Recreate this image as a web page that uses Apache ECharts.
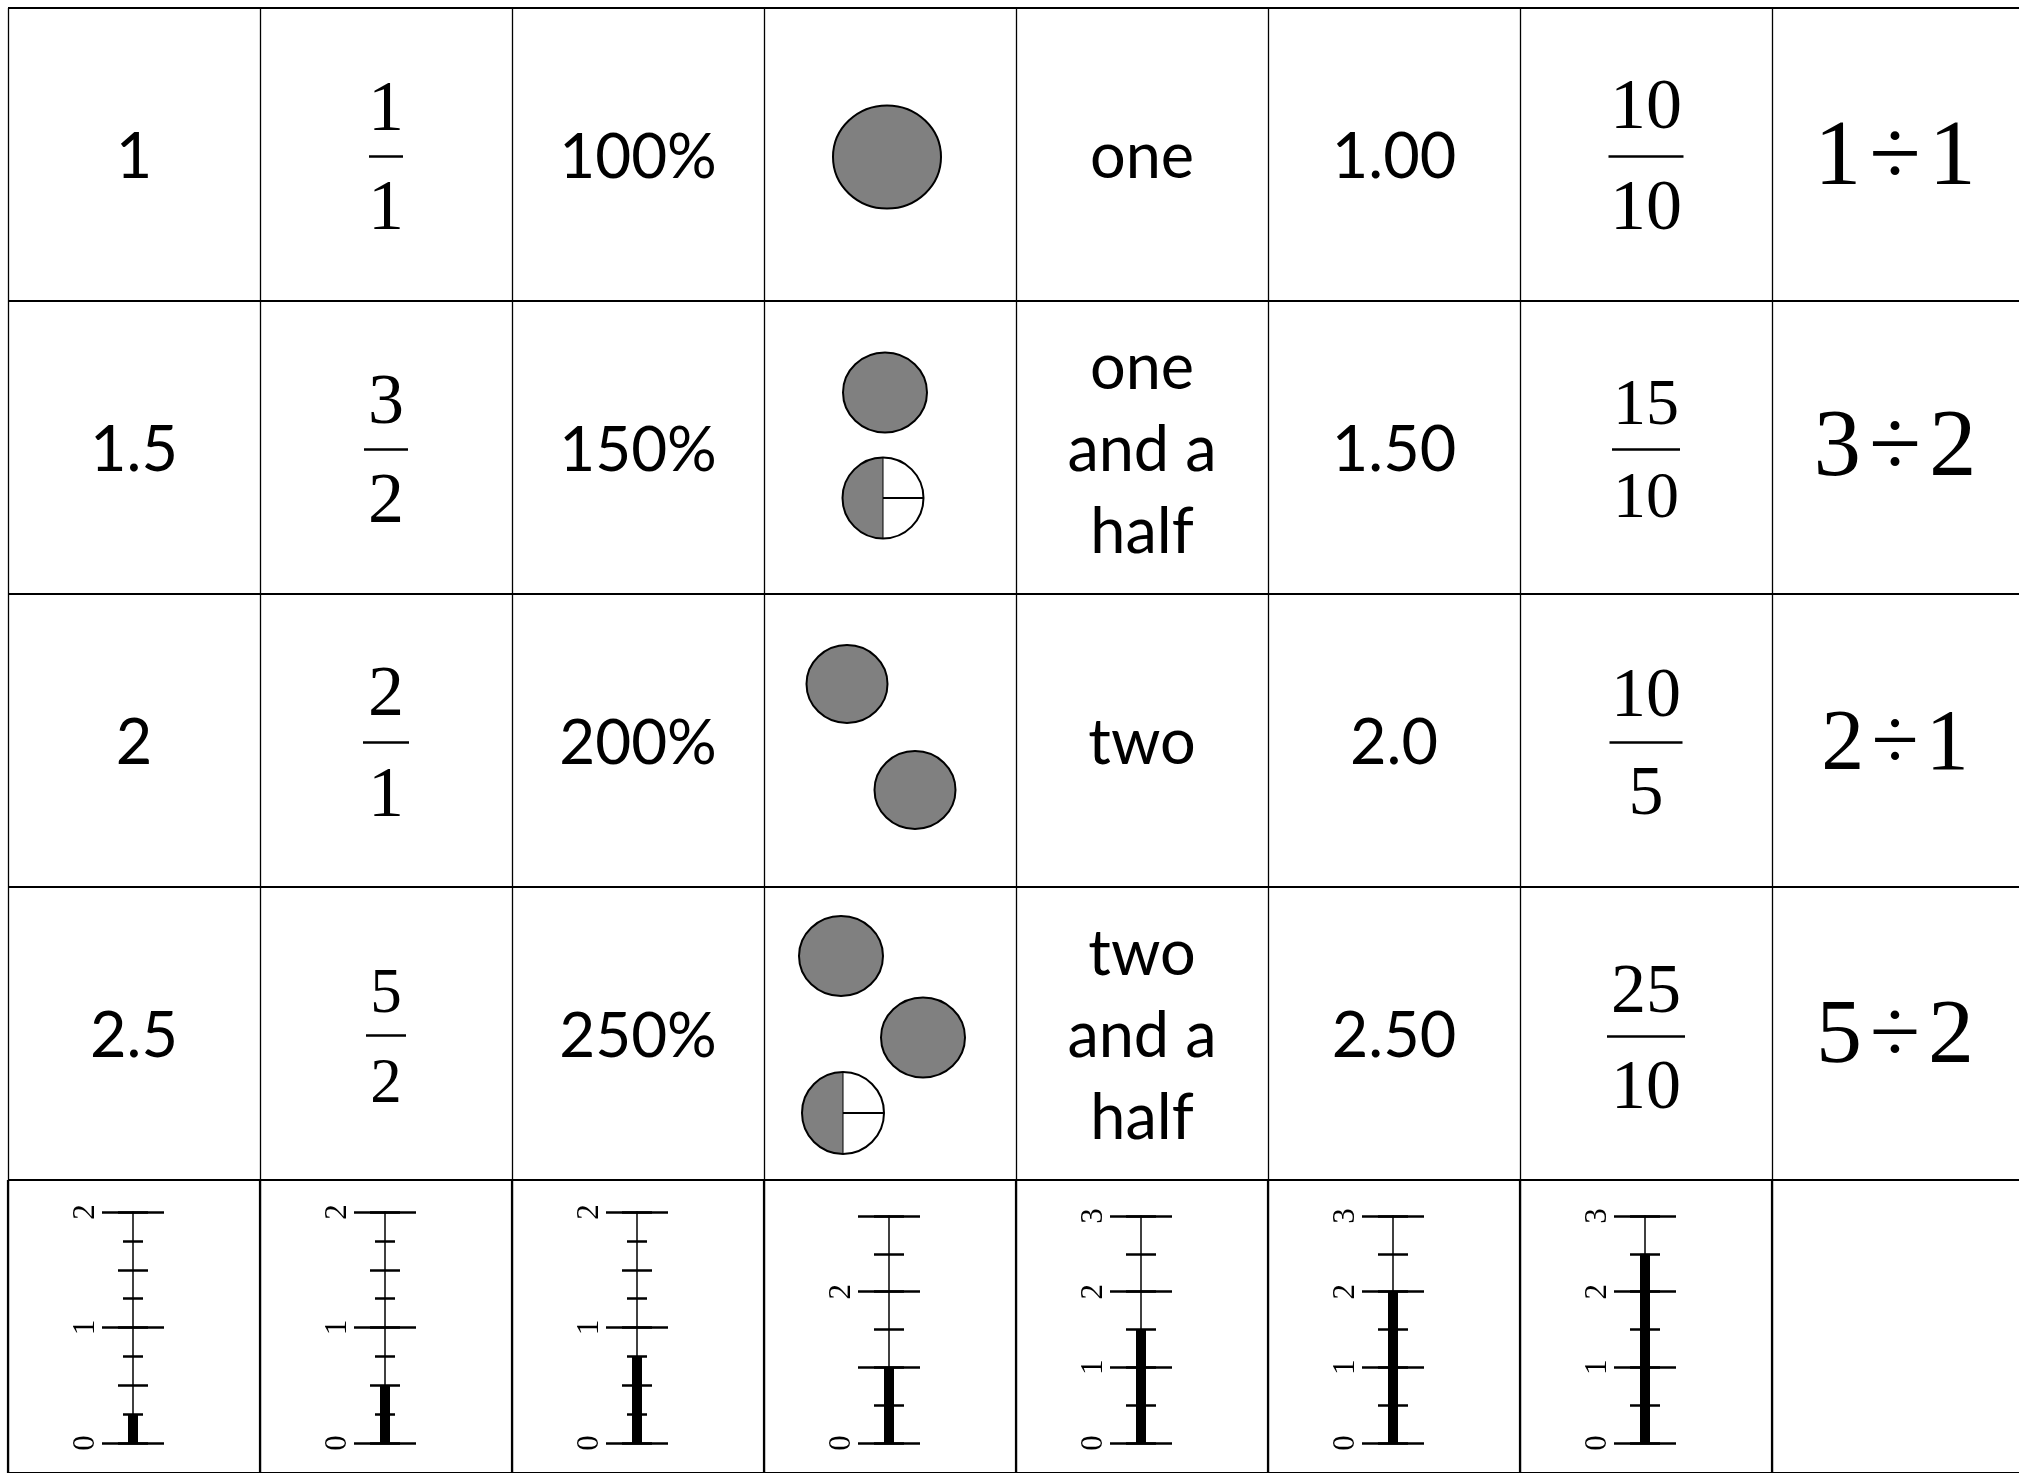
<!DOCTYPE html>
<html>
<head>
<meta charset="utf-8">
<script src="https://cdn.jsdelivr.net/npm/echarts@6/dist/echarts.min.js"></script>
<style>
  html, body { margin: 0; padding: 0; background: #fff; }
  #chart { width: 2019px; height: 1473px; }
</style>
</head>
<body>
<div id="chart"></div>
<script>
// one entry per card row
const decimals = ['1', '1.5', '2', '2.5'];
const fractions = [['1', '1'], ['3', '2'], ['2', '1'], ['5', '2']];
const percents = ['100%', '150%', '200%', '250%'];
const wholeCircles = [1, 1, 2, 2];
const partCircles = [0, 0.5, 0, 0.5];
const words = ['one', 'one\nand a\nhalf', 'two', 'two\nand a\nhalf'];
const decimalsTwo = ['1.00', '1.50', '2.0', '2.50'];
const tenths = [['10', '10'], ['15', '10'], ['10', '5'], ['25', '10']];
const divisions = ['1÷1', '3÷2', '2÷1', '5÷2'];

// number line cards in the bottom row
const lineValues = [0.25, 0.5, 0.75, 1, 1.5, 2, 2.5];
const lineMax = [2, 2, 2, 3, 3, 3, 3];
const lineLabels = [[0, 1, 2], [0, 1, 2], [0, 1, 2], [0, 2], [0, 1, 2, 3], [0, 1, 2, 3], [0, 1, 2, 3]];

// layout
const LEFT = 8, TOP = 8, CELL_W = 252, CELL_H = 293;
const SANS = 'Lato, "Open Sans", sans-serif';
const SERIF = '"Liberation Serif", "DejaVu Serif", serif';
const SANS_DY = 3, SERIF_DY = 4;

// fraction look per row: font size, numerator / bar / denominator offsets, bar width
const fracLook = [
  { size: 72, num: -47, bar: 2, den: 52, w: 34 },
  { size: 72, num: -47, bar: 2, den: 52, w: 44 },
  { size: 72, num: -48, bar: 2, den: 53, w: 46 },
  { size: 63, num: -42, bar: 2, den: 48, w: 40 }
];
const tenthsLook = [
  { size: 72, num: -49, bar: 2, den: 52, w: 75 },
  { size: 66, num: -45, bar: 2, den: 48, w: 68 },
  { size: 70, num: -47, bar: 2, den: 51, w: 73 },
  { size: 70, num: -44, bar: 3, den: 52, w: 78 }
];
const divisionLook = [
  { size: 94, dy: 1 }, { size: 95, dy: -1 }, { size: 86, dy: 2 }, { size: 92, dy: 0 }
];
const circleSlots = [
  [{ dx: -3, dy: 2.5, rx: 54, ry: 51.5 }],
  [{ dx: -5, dy: -55, rx: 42, ry: 40 }, { dx: -7, dy: 50.5, rx: 41, ry: 40 }],
  [{ dx: -43, dy: -56.5, rx: 40.5, ry: 39 }, { dx: 25, dy: 49.5, rx: 40.5, ry: 39 }],
  [{ dx: -49, dy: -77.5, rx: 42, ry: 40 }, { dx: 33, dy: 4, rx: 42, ry: 40 }, { dx: -47, dy: 79.5, rx: 42, ry: 40 }]
];

function cellData(col, n) {
  const out = [];
  for (let r = 0; r < n; r++) out.push([col + 0.5, r + 0.5]);
  return out;
}

function textSeries(col, texts, fontSize, lineHeight) {
  return {
    type: 'custom', xAxisIndex: 0, yAxisIndex: 0, silent: true,
    data: cellData(col, texts.length),
    renderItem: (params, api) => {
      const p = api.coord([api.value(0), api.value(1)]);
      return {
        type: 'text', x: p[0], y: p[1] + SANS_DY,
        style: { text: texts[params.dataIndex], fontFamily: SANS, fontSize, lineHeight, fill: '#000', align: 'center', verticalAlign: 'middle' }
      };
    }
  };
}

function fractionSeries(col, pairs, looks) {
  return {
    type: 'custom', xAxisIndex: 0, yAxisIndex: 0, silent: true,
    data: cellData(col, pairs.length),
    renderItem: (params, api) => {
      const p = api.coord([api.value(0), api.value(1)]);
      const pair = pairs[params.dataIndex];
      const s = looks[params.dataIndex];
      const txt = (t, dy) => ({
        type: 'text', x: p[0], y: p[1] + dy + SERIF_DY,
        style: { text: t, fontFamily: SERIF, fontSize: s.size, fill: '#000', align: 'center', verticalAlign: 'middle' }
      });
      return {
        type: 'group',
        children: [
          txt(pair[0], s.num),
          { type: 'line', shape: { x1: p[0] - s.w / 2, y1: p[1] + s.bar, x2: p[0] + s.w / 2, y2: p[1] + s.bar }, style: { stroke: '#000', lineWidth: 2.5 } },
          txt(pair[1], s.den)
        ]
      };
    }
  };
}

const circleSeries = {
  type: 'custom', xAxisIndex: 0, yAxisIndex: 0, silent: true,
  data: cellData(3, wholeCircles.length),
  renderItem: (params, api) => {
    const i = params.dataIndex;
    const p = api.coord([api.value(0), api.value(1)]);
    const slots = circleSlots[i];
    const children = [];
    for (let k = 0; k < wholeCircles[i]; k++) {
      const s = slots[k];
      children.push({ type: 'ellipse', shape: { cx: p[0] + s.dx, cy: p[1] + s.dy, rx: s.rx, ry: s.ry }, style: { fill: '#808080', stroke: '#000', lineWidth: 2 } });
    }
    if (partCircles[i] > 0) {
      const s = slots[wholeCircles[i]];
      const cx = p[0] + s.dx, cy = p[1] + s.dy, r = (s.rx + s.ry) / 2;
      children.push({ type: 'circle', shape: { cx, cy, r }, style: { fill: '#fff' } });
      children.push({ type: 'sector', shape: { cx, cy, r0: 0, r, startAngle: Math.PI * 1.5 - partCircles[i] * Math.PI * 2, endAngle: Math.PI * 1.5, clockwise: true }, style: { fill: '#808080' } });
      children.push({ type: 'line', shape: { x1: cx, y1: cy, x2: cx + r, y2: cy }, style: { stroke: '#000', lineWidth: 2 } });
      children.push({ type: 'line', shape: { x1: cx, y1: cy - r, x2: cx, y2: cy + r }, style: { stroke: '#000', lineWidth: 1 } });
      children.push({ type: 'circle', shape: { cx, cy, r }, style: { fill: null, stroke: '#000', lineWidth: 2 } });
    }
    return { type: 'group', children };
  }
};

const divisionSeries = {
  type: 'custom', xAxisIndex: 0, yAxisIndex: 0, silent: true,
  data: cellData(7, divisions.length),
  renderItem: (params, api) => {
    const p = api.coord([api.value(0), api.value(1)]);
    const s = divisionLook[params.dataIndex];
    return {
      type: 'text', x: p[0] - 3, y: p[1] + s.dy + SERIF_DY,
      style: { text: divisions[params.dataIndex].split('÷').join('\u200a÷\u200a'), fontFamily: SERIF, fontSize: s.size, fill: '#000', align: 'center', verticalAlign: 'middle' }
    };
  }
};

// main table grid, a bottom-row grid (heavier column rules), then one small grid per number line
const grids = [
  { left: LEFT, top: TOP, width: CELL_W * 8, height: CELL_H * 5, outerBoundsMode: 'none' },
  { left: LEFT, top: TOP + CELL_H * 4, width: CELL_W * 8, height: CELL_H, outerBoundsMode: 'none' }
];
const hidden = { axisLine: { show: false }, axisTick: { show: false }, axisLabel: { show: false } };
const xAxes = [
  Object.assign({ type: 'value', gridIndex: 0, min: 0, max: 8, interval: 1,
    splitLine: { show: true, lineStyle: { color: '#000', width: 1.3 } } }, hidden),
  Object.assign({ type: 'value', gridIndex: 1, min: 0, max: 8, interval: 1,
    splitLine: { show: true, lineStyle: { color: '#000', width: 2.2 } } }, hidden)
];
const yAxes = [
  Object.assign({ type: 'value', gridIndex: 0, min: 0, max: 5, interval: 1, inverse: true,
    splitLine: { show: true, lineStyle: { color: '#000', width: 2 } } }, hidden),
  Object.assign({ type: 'value', gridIndex: 1, min: 0, max: 1, interval: 1,
    splitLine: { show: false } }, hidden)
];
const barSeries = [];

lineValues.forEach((v, i) => {
  const g = grids.length;
  const max = lineMax[i];
  const cx = LEFT + CELL_W * (i + 0.5) - 1;
  const top = max === 2 ? 1212 : 1216;
  grids.push({ left: cx - 31, width: 62, top, height: 1443 - top, outerBoundsMode: 'none' });
  xAxes.push({ type: 'category', gridIndex: g, data: ['v'], show: false });
  const tickAxis = (inside) => ({
    type: 'value', gridIndex: g, min: 0, max, interval: 0.5, position: 'left', offset: -31,
    axisLine: { show: !inside, lineStyle: { color: '#000', width: 1.5 } },
    axisTick: { show: true, inside, length: 15, lineStyle: { color: '#000', width: 2.5 } },
    minorTick: { show: max === 2, splitNumber: 2, length: 10, lineStyle: { color: '#000', width: 2.5 } },
    axisLabel: { show: false }, splitLine: { show: false }
  });
  yAxes.push({
    type: 'value', gridIndex: g, min: 0, max, interval: 1, position: 'left',
    axisLine: { show: false }, axisTick: { show: false },
    splitLine: { show: true, lineStyle: { color: '#000', width: 2.5 } },
    axisLabel: {
      show: true, rotate: 90, margin: 1, color: '#000', fontFamily: SERIF, fontSize: 31,
      formatter: (val) => lineLabels[i].indexOf(val) >= 0 ? String(val) : ''
    }
  });
  yAxes.push(tickAxis(false));
  yAxes.push(tickAxis(true));
  barSeries.push({
    type: 'bar', xAxisIndex: g, yAxisIndex: yAxes.length - 3, data: [v],
    barWidth: 10, itemStyle: { color: '#000' }, silent: true
  });
});

const option = {
  animation: false,
  backgroundColor: '#fff',
  grid: grids,
  xAxis: xAxes,
  yAxis: yAxes,
  series: [
    textSeries(0, decimals, 63),
    fractionSeries(1, fractions, fracLook),
    textSeries(2, percents, 62),
    circleSeries,
    textSeries(4, words, 63, 82),
    textSeries(5, decimalsTwo, 63),
    fractionSeries(6, tenths, tenthsLook),
    divisionSeries
  ].concat(barSeries)
};

const chart = echarts.init(document.getElementById('chart'));
chart.setOption(option);
</script>
</body>
</html>
